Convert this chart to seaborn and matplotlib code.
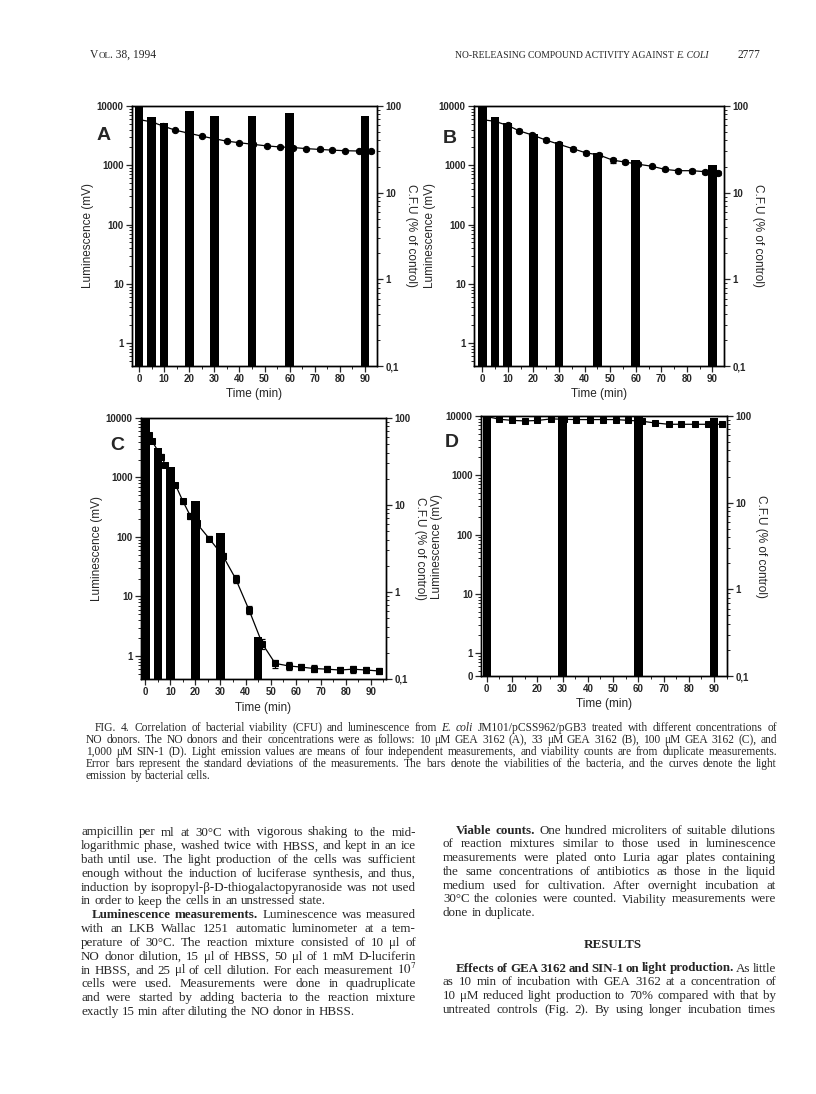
import numpy as np
import matplotlib
matplotlib.use("Agg")
import matplotlib.pyplot as plt
import seaborn as sns
from matplotlib.ticker import LogLocator, NullFormatter, MultipleLocator

sns.set_style("ticks")
plt.rcParams['font.family'] = ['Liberation Sans', 'DejaVu Sans']
plt.rcParams['mathtext.fontset'] = 'stix'

# ---- data ----
# luminescence (mV), means and SDs, and CFU (% of control)
a_lum_t = [0, 5, 9.5, 14.5, 19.5, 25, 30, 35, 40, 45.5, 51, 56, 61.5, 66.5, 72, 77, 82, 87.5, 92.5]
a_lum = [5900, 5400, 4600, 3900, 3500, 3100, 2800, 2550, 2400, 2250, 2120, 2040, 1990, 1910, 1850, 1800, 1760, 1740, 1720]
a_sd = [250, 250, 200, 170, 150, 130, 120, 110, 100, 100, 90, 90, 90, 80, 80, 80, 80, 80, 80]
a_cfu_t = [0, 5, 10, 20, 30, 45, 60, 90]
a_cfu = [100, 75, 64, 88, 77, 76, 83, 77]

b_lum_t = [0, 5, 10, 14.5, 19.5, 25, 30, 35.5, 40.5, 45.5, 51, 56, 61, 66.5, 71.5, 76.5, 82, 87, 92]
b_lum = [5900, 5500, 4700, 3800, 3250, 2650, 2260, 1900, 1620, 1500, 1220, 1130, 1040, 960, 850, 810, 810, 780, 740]
b_sd = [300, 350, 300, 250, 250, 180, 170, 150, 130, 130, 110, 90, 80, 70, 60, 55, 60, 60, 60]
b_cfu_t = [0, 5, 10, 20, 30, 45, 60, 90]
b_cfu = [100, 75, 64, 48, 38, 29, 24, 21]

c_lum_t = [1.3, 2.7, 6.4, 8, 12, 15, 18, 20.5, 25.5, 31, 36, 41.4, 46.7, 51.8, 57.2, 62.2, 67.3, 72.5, 77.6, 82.8, 88, 93.2]
c_lum = [5100, 4100, 2250, 1650, 760, 400, 225, 170, 94, 48, 20, 5.9, 1.6, 0.75, 0.68, 0.65, 0.615, 0.60, 0.58, 0.60, 0.58, 0.56]
c_sd = [350, 300, 200, 120, 60, 40, 25, 15, 8, 5, 3, 0.9, 0.3, 0.12, 0.1, 0.08, 0.08, 0.07, 0.07, 0.08, 0.06, 0.06]
c_cfu_t = [0, 5, 10, 20, 30, 45]
c_cfu = [100, 45, 27, 11, 4.8, 0.30]

d_lum_t = [0, 5, 10, 15, 20, 25.5, 30.5, 35.5, 41, 46, 51, 56, 61.5, 66.5, 72, 77, 82.5, 87.5, 93]
d_lum = [9800, 8800, 8450, 8250, 8400, 8950, 8800, 8700, 8700, 8700, 8700, 8450, 8150, 7650, 7250, 7250, 7250, 7250, 7250]
d_sd = [300, 300, 250, 250, 250, 250, 250, 250, 250, 250, 250, 250, 250, 220, 220, 220, 220, 220, 220]
d_cfu_t = [0, 30, 60, 90]
d_cfu = [100, 100, 99, 95]

lum_ticks = [1, 10, 100, 1000, 10000]
lum_labels = ['1', '10', '100', '1000', '10000']
cfu_ticks = [0.1, 1, 10, 100]
cfu_labels = ['0,1', '1', '10', '100']
time_ticks = [0, 10, 20, 30, 40, 50, 60, 70, 80, 90]

W, H = 816, 1094
fig = plt.figure(figsize=(W / 100, H / 100), dpi=100)


def rect(l, t, r, b):
    return [l / W, 1 - b / H, (r - l) / W, (b - t) / H]


def panel(box, xlim, lt, lum, sd, ct, cfu, marker, zero_label=False):
    ax = fig.add_axes(box)
    ax2 = ax.twinx()
    sns.lineplot(x=lt, y=lum, ax=ax, color='k', lw=0.9, marker=marker,
                 markersize=4.5, markeredgecolor='k', errorbar=None)
    ax.errorbar(lt, lum, yerr=sd, fmt='none', ecolor='k', elinewidth=0.9,
                capsize=2.5, capthick=0.9)
    w = 3.4 / np.diff(ct).min()
    sns.barplot(x=ct, y=cfu, ax=ax2, native_scale=True, color='k', saturation=1,
                width=w, errorbar=None, linewidth=0)
    ax.set_yscale('log')
    ax2.set_yscale('log')
    ymin = 0.41
    ax.set_ylim(ymin, 10000)
    ax2.set_ylim(0.1, 100)
    ax.set_xlim(*xlim)
    ticks = lum_ticks
    labels = lum_labels
    if zero_label:
        ticks = [ymin] + lum_ticks
        labels = ['0'] + lum_labels
    ax.set_yticks(ticks)
    ax.set_yticklabels(labels)
    ax.yaxis.set_minor_locator(LogLocator(base=10, subs=np.arange(2, 10)))
    ax.yaxis.set_minor_formatter(NullFormatter())
    ax2.set_yticks(cfu_ticks)
    ax2.set_yticklabels(cfu_labels)
    ax2.yaxis.set_minor_locator(LogLocator(base=10, subs=np.arange(2, 10)))
    ax2.yaxis.set_minor_formatter(NullFormatter())
    ax.set_xticks(time_ticks)
    ax.set_xticklabels([str(t) for t in time_ticks])
    ax.xaxis.set_minor_locator(MultipleLocator(5))
    for a in (ax, ax2):
        a.tick_params(which='major', direction='out', length=4, width=0.9,
                      labelsize=7, pad=2)
        a.tick_params(which='minor', direction='out', length=2, width=0.7)
        for s in a.spines.values():
            s.set_visible(True)
            s.set_linewidth(1.0)
            s.set_color('k')
        for lab in a.get_yticklabels() + a.get_xticklabels():
            lab.set_fontweight('bold')
    ax2.set_xlabel('')
    ax.set_xlabel('Time (min)', fontsize=8.5, labelpad=3)
    ax.set_ylabel('Luminescence (mV)', fontsize=8.5, labelpad=2)
    ax2.set_ylabel('C.F.U (% of control)', fontsize=8.5, rotation=-90,
                   labelpad=11)
    ax.grid(False)
    ax2.grid(False)
    return ax


panel(rect(132, 106, 377, 366), (-2.8, 94.8), a_lum_t, a_lum, a_sd, a_cfu_t, a_cfu, 'o')
panel(rect(474, 106, 724, 366), (-3.2, 94.5), b_lum_t, b_lum, b_sd, b_cfu_t, b_cfu, 'o')
panel(rect(141, 418, 386, 679), (-1.7, 96), c_lum_t, c_lum, c_sd, c_cfu_t, c_cfu, 's')
panel(rect(481, 416, 727, 676), (-2.3, 95.1), d_lum_t, d_lum, d_sd, d_cfu_t, d_cfu, 's',
      zero_label=True)

for letter, (x, y) in zip('ABCD', [(97, 140), (443, 143), (110, 450), (445, 447)]):
    fig.text(x / W, 1 - y / H, letter, fontsize=14, fontweight='bold', ha='left',
             va='baseline')

# ---- page text ----
renderer = fig.canvas.get_renderer()
SERIF = ['Liberation Serif', 'DejaVu Serif']


def put(x, y, s, size, **kw):
    return fig.text(x / W, 1 - y / H, s, fontsize=size, family=SERIF,
                    va='baseline', ha='left', **kw)


def put_run(x, y, parts):
    # parts: (string, size, style) placed one after another
    for s, size, style in parts:
        t = put(x, y, s, size, style=style)
        x += t.get_window_extent(renderer).width


def text_line(line, x0, x1, y, size, justify=True):
    words = []
    bold = ital = False
    for tok in line.split(' '):
        if tok.startswith('*'):
            bold = True
        if tok.startswith('_'):
            ital = True
        words.append((tok.strip('*_'), bold, ital))
        if tok.endswith('*'):
            bold = False
        if tok.endswith('_'):
            ital = False
    objs = []
    for w, b, i in words:
        t = put(x0, y, w, size, weight='bold' if b else 'normal',
                style='italic' if i else 'normal')
        objs.append((t, t.get_window_extent(renderer).width))
    total = sum(wd for _, wd in objs)
    space = size * 100 / 72 * 0.25
    if justify and len(objs) > 1:
        space = (x1 - x0 - total) / (len(objs) - 1)
    x = x0
    for t, wd in objs:
        t.set_x(x / W)
        x += wd + space


def paragraph(lines, x0, x1, y0, step, size, indent=0, last_justified=False):
    n = len(lines)
    for k, line in enumerate(lines):
        xs = x0 + (indent if k == 0 else 0)
        text_line(line, xs, x1, y0 + k * step, size,
                  justify=(k < n - 1) or last_justified)


put_run(90, 58, [('V', 8.3, 'normal'), ('OL', 6.5, 'normal'), ('. 38, 1994', 8.3, 'normal')])
put_run(455, 58, [('NO-RELEASING COMPOUND ACTIVITY AGAINST ', 6.9, 'normal'),
                  ('E. COLI', 6.9, 'italic')])
put(738, 58, '2777', 8.3)

caption = [
    'FIG. 4. Correlation of bacterial viability (CFU) and luminescence from _E. coli_ JM101/pCSS962/pGB3 treated with different concentrations of',
    'NO donors. The NO donors and their concentrations were as follows: 10 μM GEA 3162 (A), 33 μM GEA 3162 (B), 100 μM GEA 3162 (C), and',
    '1,000 μM SIN-1 (D). Light emission values are means of four independent measurements, and viability counts are from duplicate measurements.',
    'Error bars represent the standard deviations of the measurements. The bars denote the viabilities of the bacteria, and the curves denote the light',
    'emission by bacterial cells.',
]
paragraph(caption, 86, 777, 731, 12.0, 8.3, indent=9)

left1 = [
    'ampicillin per ml at 30°C with vigorous shaking to the mid-',
    'logarithmic phase, washed twice with HBSS, and kept in an ice',
    'bath until use. The light production of the cells was sufficient',
    'enough without the induction of luciferase synthesis, and thus,',
    'induction by isopropyl-β-D-thiogalactopyranoside was not used',
    'in order to keep the cells in an unstressed state.',
]
left2 = [
    '*Luminescence measurements.* Luminescence was measured',
    'with an LKB Wallac 1251 automatic luminometer at a tem-',
    'perature of 30°C. The reaction mixture consisted of 10 μl of',
    'NO donor dilution, 15 μl of HBSS, 50 μl of 1 mM D-luciferin',
    'in HBSS, and 25 μl of cell dilution. For each measurement $10^7$',
    'cells were used. Measurements were done in quadruplicate',
    'and were started by adding bacteria to the reaction mixture',
    'exactly 15 min after diluting the NO donor in HBSS.',
]
right1 = [
    '*Viable counts.* One hundred microliters of suitable dilutions',
    'of reaction mixtures similar to those used in luminescence',
    'measurements were plated onto Luria agar plates containing',
    'the same concentrations of antibiotics as those in the liquid',
    'medium used for cultivation. After overnight incubation at',
    '30°C the colonies were counted. Viability measurements were',
    'done in duplicate.',
]
right2 = [
    '*Effects of GEA 3162 and SIN-1 on light production.* As little',
    'as 10 min of incubation with GEA 3162 at a concentration of',
    '10 μM reduced light production to 70% compared with that by',
    'untreated controls (Fig. 2). By using longer incubation times',
]

BODY = 9.4
step = 13.8
y0 = 835.5
paragraph(left1, 81, 416, y0, step, BODY)
paragraph(left2, 81, 416, y0 + 6 * step, step, BODY, indent=11)
paragraph(right1, 443, 776, y0 - 2, step, BODY, indent=13)
fig.text(613 / W, 1 - (y0 - 2 + 8.3 * step) / H, 'RESULTS', fontsize=BODY,
         family=SERIF, weight='bold', ha='center', va='baseline')
paragraph(right2, 443, 776, y0 - 2 + 10 * step, step, BODY, indent=13,
          last_justified=True)

fig.savefig('out.png', dpi=100, facecolor='white')
